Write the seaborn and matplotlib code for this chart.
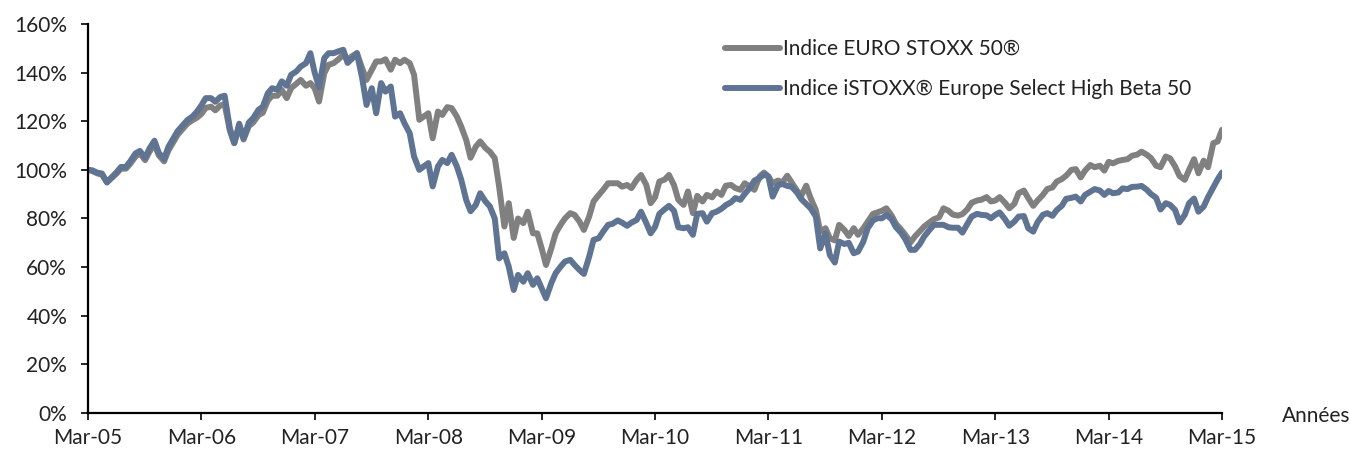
import pandas as pd
import seaborn as sns
import matplotlib.dates as mdates

from matplotlib import pyplot as plt
from matplotlib.ticker import PercentFormatter

# semi-monthly points, Mar-05 .. Mar-15 (base 100)
DATES = pd.date_range('2005-03-01', '2015-03-01', freq='SMS')

EURO_STOXX_50 = [
    100, 99.5, 98.5, 98, 95, 96.5, 98.5, 100.5, 100.5, 102.5,
    105.5, 106.8, 104, 107.5, 110.5, 106, 103.5, 108, 111.5, 114.5,
    117, 119, 120.5, 121.5, 123, 125.5, 126, 124.5, 126.5, 127,
    116, 111, 118, 112.5, 118, 119.5, 122.5, 123.5, 128.5, 130.5,
    130.5, 132.9, 129.5, 133.6, 135.4, 137, 134.6, 135.7, 133.6, 128.1,
    139.8, 143.2, 143.9, 145.3, 147.3, 145.3, 146.9, 148, 141.8, 137,
    141.2, 144.6, 144.6, 145.5, 141.2, 145.3, 143.9, 145.3, 143.9, 139.1,
    120.6, 121.9, 123.3, 113, 124, 122.6, 125.8, 125.4, 121.9, 117.8,
    112.3, 105, 109.6, 111.7, 109, 107.5, 104.8, 93.1, 76.7, 86.3,
    72, 80, 78.1, 82.8, 73.9, 73.9, 67.7, 60.9, 67.7, 73.9,
    77.4, 80, 82.2, 81.5, 78.7, 75.3, 80.8, 87, 89.7, 91.8,
    94.5, 94.5, 94.5, 93.1, 93.8, 92.5, 95.9, 97.9, 93.8, 86.3,
    88.7, 95.2, 96, 97.9, 93.8, 87.7, 85.6, 91.1, 82.2, 89.3,
    87, 89.7, 88.7, 91.1, 89.7, 93.5, 93.8, 92.5, 91.8, 94.5,
    93.1, 91.8, 97.3, 98.9, 97.3, 94.5, 95.6, 94.8, 97.6, 94.8,
    91.5, 89.3, 93.5, 88.4, 83.5, 74.6, 76, 71.9, 71, 77.4,
    75.3, 72.8, 76, 73.3, 76, 78.7, 81.9, 82.5, 83.2, 84.2,
    81.2, 77.8, 75.6, 73.3, 70.2, 72.6, 74.8, 76.7, 78.4, 79.7,
    80.5, 84.2, 83.2, 81.6, 81.2, 81.8, 83.8, 86.5, 87.4, 87.7,
    88.8, 87, 87.4, 88.8, 86.5, 84.2, 86, 90.4, 91.5, 88.4,
    85.2, 87.4, 89.7, 92.1, 92.8, 95.2, 96.2, 97.6, 100, 100.3,
    96.9, 99.7, 102, 101.1, 101.7, 99.7, 103.3, 102.7, 103.7, 104.1,
    104.4, 105.8, 106.3, 107.5, 106.3, 104.9, 101.7, 101.1, 105.5, 104.7,
    101.4, 97.5, 95.9, 100, 104.4, 98.6, 103.8, 101.1, 111, 111.7,
    116.5,
]

HIGH_BETA_50 = [
    100, 99.8, 98.8, 98.5, 94.8, 96.8, 99, 101.2, 101.2, 103.5,
    106.8, 107.8, 105, 108.8, 112, 107, 104.5, 109.5, 113, 116,
    118.5, 120.5, 122, 124, 126.5, 129.5, 129.5, 128, 130, 130.5,
    117, 111, 119, 113, 119.5, 121.3, 124.7, 126, 131.5, 133.6,
    133, 136.4, 134.6, 139.1, 140.5, 142.5, 143.9, 148, 140, 134,
    146, 148, 148, 148.7, 149.4, 144, 146, 148, 137.7, 126.7,
    133.6, 123.3, 135.7, 132.2, 134.3, 121.9, 123.3, 119.2, 115.1, 105.5,
    100, 101.4, 102.8, 93.2, 101.4, 104.1, 102.8, 106.2, 101.4, 95.9,
    87.6, 83, 85.6, 90.4, 87, 85, 80, 63.6, 65.7, 60.2,
    50.6, 56.8, 54, 57.5, 52.7, 55.4, 51.3, 47.2, 53.4, 57.5,
    60.2, 62.3, 63, 60.9, 58.8, 57.2, 64.3, 71.2, 71.9, 74.6,
    77.4, 77.8, 79.2, 78.3, 77, 78.3, 79.4, 82.8, 78.1, 73.9,
    76.5, 81.9, 83.8, 85.2, 83.2, 76.4, 76, 76.4, 73.3, 81.9,
    82.2, 78.7, 82.2, 82.8, 84, 85.5, 86.7, 88.4, 87.7, 90.1,
    92.7, 95.6, 96.7, 98.1, 97.3, 89, 93.7, 94.2, 93.4, 93.1,
    90.7, 88, 86, 84.2, 80.8, 67.7, 73.9, 65, 61.9, 70.5,
    69.5, 70, 65.7, 66.4, 70.5, 76, 79.2, 80.1, 80.1, 81.5,
    79.7, 76.4, 74.2, 71.5, 67.1, 67.1, 69.5, 72.6, 75.3, 77.4,
    77.4, 77.4, 76.4, 76.2, 76.2, 74.2, 77.8, 80.8, 81.9, 81.5,
    81.3, 80.1, 81.5, 82.5, 79.7, 77, 78.7, 80.8, 81, 76,
    74.6, 78.5, 81.5, 82.2, 81.1, 83.5, 85.2, 88.1, 88.5, 89,
    87, 89.7, 91, 92.1, 91.5, 89.7, 91.3, 90.4, 90.7, 92.4,
    92.1, 93, 93.1, 93.4, 91.9, 90.1, 88.5, 83.7, 86.3, 85.6,
    83.5, 78.4, 81.5, 86.3, 88.2, 82.8, 84.9, 88.8, 92.8, 96.1,
    98.9,
]

SERIES_NAMES = ['Indice EURO STOXX 50®', 'Indice iSTOXX® Europe Select High Beta 50']
COLORS = ['#808080', '#5f7392']
YEAR_TICKS = pd.date_range('2005-03-01', '2015-03-01', freq='12MS')
Y_TICKS = [0, 20, 40, 60, 80, 100, 120, 140, 160]

FONT_SIZE = 15


def build_frame():
    df = pd.DataFrame({'Date': DATES,
                       SERIES_NAMES[0]: EURO_STOXX_50,
                       SERIES_NAMES[1]: HIGH_BETA_50})
    df = df.melt(id_vars='Date', var_name='Indice', value_name='Performance')
    return df


def main():
    sns.set_style('ticks')
    plt.rcParams['font.family'] = ['Lato', 'DejaVu Sans']

    df = build_frame()

    fig = plt.figure(figsize=(13.5, 4.5), dpi=100)
    ax = fig.add_axes([88 / 1350, 37 / 450, 1134 / 1350, 389 / 450])

    sns.lineplot(data=df,
                 x='Date',
                 y='Performance',
                 hue='Indice',
                 hue_order=SERIES_NAMES,
                 palette=dict(zip(SERIES_NAMES, COLORS)),
                 linewidth=4.3,
                 ax=ax)

    ax.set_xlim(DATES[0], DATES[-1])
    ax.set_ylim(0, 160)
    ax.set_xticks(YEAR_TICKS)
    ax.xaxis.set_major_formatter(mdates.DateFormatter('%b-%y'))
    ax.set_yticks(Y_TICKS)
    ax.yaxis.set_major_formatter(PercentFormatter(xmax=100, decimals=0))

    ax.tick_params(axis='both', labelsize=FONT_SIZE, colors='black', labelcolor='#222222',
                   length=5, width=1.2, direction='out')
    ax.tick_params(axis='y', pad=10)
    ax.tick_params(axis='x', pad=6)

    for side in ('top', 'right'):
        ax.spines[side].set_visible(False)
    for side in ('left', 'bottom'):
        ax.spines[side].set_linewidth(1.6)
        ax.spines[side].set_color('black')

    ax.set_ylabel('')
    ax.set_xlabel('Années', fontsize=FONT_SIZE, color='#222222')
    ax.xaxis.set_label_coords(1.083, -0.008)
    ax.xaxis.label.set_verticalalignment('center')

    handles, labels = ax.get_legend_handles_labels()
    ax.legend(handles=handles, labels=labels,
              loc='upper left',
              bbox_to_anchor=(725 / 1350, 1 - 39 / 450),
              bbox_transform=fig.transFigure,
              frameon=False,
              fontsize=FONT_SIZE,
              handlelength=2.65,
              handletextpad=0.15,
              labelspacing=0.95,
              borderpad=0,
              borderaxespad=0,
              labelcolor='#222222')

    fig.savefig('out.png', dpi=100)


if __name__ == '__main__':
    main()
